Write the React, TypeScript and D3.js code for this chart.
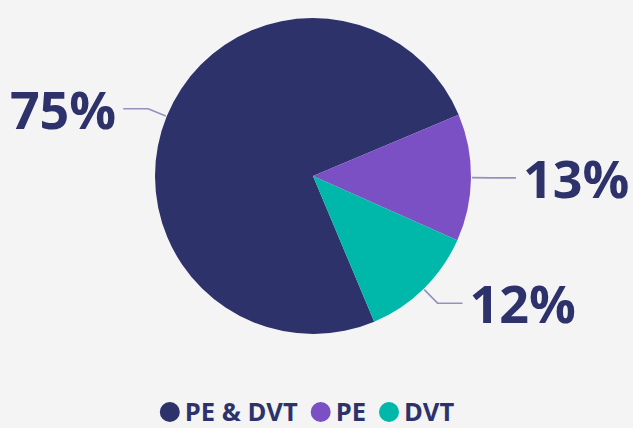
import React, { useEffect, useRef } from "react";
import * as d3 from "d3";

const categories = ["PE & DVT", "PE", "DVT"];
const values = [75, 13, 12];
const labels = ["75%", "13%", "12%"];
const colors = ["#2e326b", "#7a50c4", "#00b8a9"];

const W = 633;
const H = 428;

export default function App() {
  const ref = useRef<SVGSVGElement>(null);

  useEffect(() => {
    const svg = d3.select(ref.current);
    svg.selectAll("*").remove();
    svg.append("rect").attr("width", W).attr("height", H).attr("fill", "#f4f4f4");

    const cx = 313, cy = 176, r = 158;
    const start = (157.2 * Math.PI) / 180;
    const pie = d3.pie<number>().sort(null).startAngle(start).endAngle(start + 2 * Math.PI);
    const arcs = pie(values);
    const arc = d3.arc<d3.PieArcDatum<number>>().innerRadius(0).outerRadius(r);

    const g = svg.append("g").attr("transform", `translate(${cx},${cy})`);
    g.selectAll("path.slice")
      .data(arcs)
      .join("path")
      .attr("class", "slice")
      .attr("d", arc as any)
      .attr("fill", (_d, i) => colors[i]);

    const len1 = 20, len2 = 25;
    arcs.forEach((a, i) => {
      const m = (a.startAngle + a.endAngle) / 2;
      const sx = Math.sin(m), sy = -Math.cos(m);
      const p0 = [sx * (r + 1), sy * (r + 1)];
      const p1 = [sx * (r + len1), sy * (r + len1)];
      const dir = sx >= 0 ? 1 : -1;
      const p2 = [p1[0] + dir * len2, p1[1]];
      g.append("path")
        .attr("d", d3.line()([p0 as [number, number], p1 as [number, number], p2 as [number, number]]))
        .attr("fill", "none")
        .attr("stroke", "#9193bc")
        .attr("stroke-width", 1.6);
      g.append("text")
        .attr("x", p2[0] + dir * 7)
        .attr("y", p2[1] + 20)
        .attr("text-anchor", dir > 0 ? "start" : "end")
        .attr("font-family", "'Open Sans', sans-serif")
        .attr("font-weight", 700)
        .attr("font-size", 52)
        .attr("fill", "#2e326b")
        .text(labels[i]);
    });

    // Legend
    const lg = svg.append("g");
    const items = categories.map((c, i) => {
      const it = lg.append("g");
      it.append("circle").attr("cx", 10).attr("cy", 0).attr("r", 10).attr("fill", colors[i]);
      const t = it
        .append("text")
        .attr("x", 25)
        .attr("y", 9)
        .attr("font-family", "'Open Sans', sans-serif")
        .attr("font-weight", 700)
        .attr("font-size", 25.5)
        .attr("fill", "#2e326b")
        .text(c);
      const w = 25 + (t.node() as SVGTextElement).getComputedTextLength();
      return { it, w };
    });
    const gap = 13;
    const total = items.reduce((s, d) => s + d.w, 0) + gap * (items.length - 1);
    let x = 307 - total / 2;
    items.forEach((d) => {
      d.it.attr("transform", `translate(${x},412)`);
      x += d.w + gap;
    });
  }, []);

  return (
    <svg
      ref={ref}
      width={W}
      height={H}
      style={{ position: "fixed", left: 0, top: 0, display: "block" }}
    />
  );
}
